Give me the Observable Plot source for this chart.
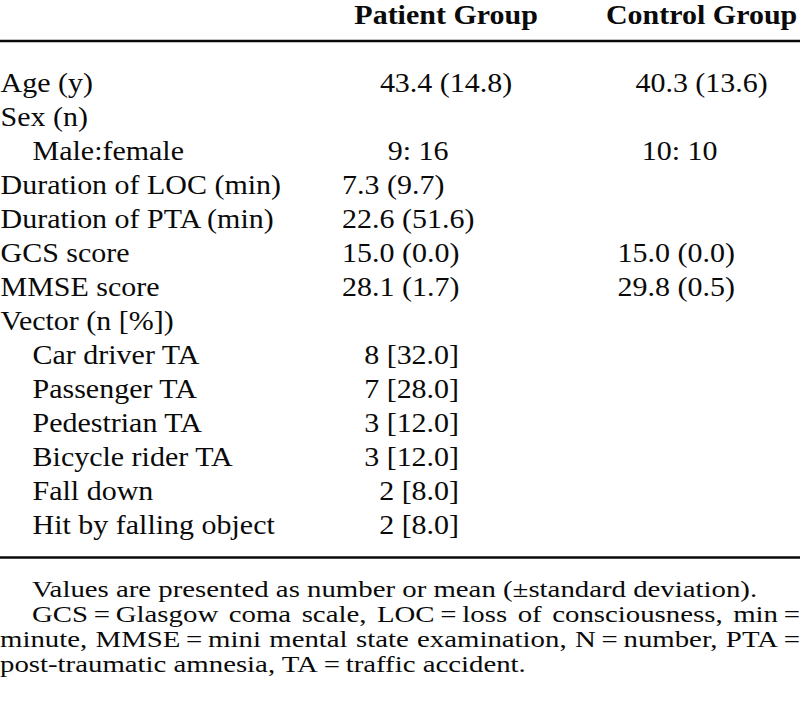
<!DOCTYPE html>
<html>
<head>
<meta charset="utf-8">
<script src="https://cdn.jsdelivr.net/npm/d3@7"></script>
<script src="https://cdn.jsdelivr.net/npm/@observablehq/plot@0.6"></script>
<style>
  html, body { margin: 0; padding: 0; background: #fff; }
  #chart svg { display: block; }
  #chart svg text { font-family: "Times New Roman", "Liberation Serif", Times, serif !important; }
  #notes { width: 800px; overflow: hidden; padding-top: 7px; }
  #notes .inner { transform-origin: 0 0; font-family: "Times New Roman", "Liberation Serif", Times, serif; color: #0a0a0a; }
  #notes .line { white-space: nowrap; }
  #notes .just { text-align: justify; text-align-last: justify; white-space: normal; }
</style>
</head>
<body>
<div id="chart"></div>
<div id="notes"></div>
<script>
// ---- data ----
const headers = ["Patient Group", "Control Group"];
const rowLabels = [
  "Age (y)", "Sex (n)", "Male:female", "Duration of LOC (min)", "Duration of PTA (min)",
  "GCS score", "MMSE score", "Vector (n [%])", "Car driver TA", "Passenger TA",
  "Pedestrian TA", "Bicycle rider TA", "Fall down", "Hit by falling object"
];
const rowLevel = [0, 0, 1, 0, 0, 0, 0, 0, 1, 1, 1, 1, 1, 1];
const patientValues = [
  "43.4 (14.8)", "", "9: 16", "7.3 (9.7)", "22.6 (51.6)", "15.0 (0.0)", "28.1 (1.7)",
  "", "8 [32.0]", "7 [28.0]", "3 [12.0]", "3 [12.0]", "2 [8.0]", "2 [8.0]"
];
const controlValues = [
  "40.3 (13.6)", "", "10: 10", "", "", "15.0 (0.0)", "29.8 (0.5)",
  "", "", "", "", "", "", ""
];
const noteParagraphs = [
  ["Values are presented as number or mean (\u00b1standard deviation)."],
  ["GCS\u2009=\u2009Glasgow coma scale, LOC\u2009=\u2009loss of consciousness, min\u2009=",
   "minute, MMSE\u2009=\u2009mini mental state examination, N\u2009=\u2009number, PTA\u2009=",
   "post-traumatic amnesia, TA\u2009=\u2009traffic accident."]
];

// ---- layout ----
const DISPLAY_W = 800;
const K = 1.111;                 // horizontal stretch of the typeset glyphs
const W = DISPLAY_W / K;
const H = 570;
const FONT = "Times New Roman";
const INK = "#0a0a0a";

// how each block of cells is set inside its column (layout, not data)
const cellLayout = [
  {rows: ["Age (y)"], anchor: "middle", dx: [0, 0]},
  {rows: ["Male:female"], anchor: "middle", dx: [-28, -22]},
  {rows: ["Duration of LOC (min)", "Duration of PTA (min)", "GCS score", "MMSE score"], anchor: "start", dx: [-104, -84]},
  {rows: ["Car driver TA", "Passenger TA", "Pedestrian TA", "Bicycle rider TA", "Fall down", "Hit by falling object"], anchor: "end", dx: [13, 13]}
];

const rows = rowLabels.map((label, i) => ({label, level: rowLevel[i]}));
const cells = [];
rowLabels.forEach((label, i) => {
  if (patientValues[i]) cells.push({row: label, column: headers[0], value: patientValues[i]});
  if (controlValues[i]) cells.push({row: label, column: headers[1], value: controlValues[i]});
});

const common = {fontFamily: FONT, fontSize: 27, fill: INK, lineAnchor: "bottom"};

const cellMarks = [];
for (const block of cellLayout) {
  headers.forEach((h, c) => {
    const data = cells.filter(d => d.column === h && block.rows.includes(d.row));
    if (data.length) {
      cellMarks.push(Plot.text(data, {...common, x: "column", y: "row", text: "value",
        textAnchor: block.anchor, dx: block.dx[c] / K}));
    }
  });
}

const plot = Plot.plot({
  width: W,
  height: H,
  margin: 0,
  style: {fontFamily: FONT, background: "#fff", color: INK},
  x: {type: "point", domain: headers, range: [445 / K, 701 / K], padding: 0, axis: null},
  y: {type: "point", domain: rowLabels, range: [86, 538], padding: 0, axis: null},
  marks: [
    // header titles
    Plot.text(headers, {...common, x: d => d, text: d => d, frameAnchor: "top", dy: 23, fontWeight: "bold"}),
    // rules
    Plot.ruleY([rowLabels[0]], {y: d => d, dy: -50.5, stroke: INK, strokeWidth: 2.5}),
    Plot.ruleY([rowLabels[rowLabels.length - 1]], {y: d => d, dy: 24, stroke: INK, strokeWidth: 2.5}),
    // row labels
    Plot.text(rows.filter(d => d.level === 0), {...common, y: "label", text: "label", frameAnchor: "left", textAnchor: "start"}),
    Plot.text(rows.filter(d => d.level === 1), {...common, y: "label", text: "label", frameAnchor: "left", textAnchor: "start", dx: 32 / K}),
    // values
    ...cellMarks
  ]
});

plot.setAttribute("preserveAspectRatio", "none");
plot.setAttribute("width", DISPLAY_W);
plot.setAttribute("height", H);
plot.style.width = DISPLAY_W + "px";
plot.style.height = H + "px";
plot.style.maxWidth = "none";
document.getElementById("chart").appendChild(plot);

// ---- footnote ----
const KN = 1.2;
const notes = document.getElementById("notes");
const inner = document.createElement("div");
inner.className = "inner";
inner.style.width = (DISPLAY_W / KN) + "px";
inner.style.transform = `scaleX(${KN})`;
inner.style.fontSize = "24px";
inner.style.lineHeight = "25px";
noteParagraphs.forEach(lines => {
  lines.forEach((line, j) => {
    const div = document.createElement("div");
    div.className = "line" + (j < lines.length - 1 ? " just" : "");
    if (j === 0) div.style.textIndent = (32 / KN) + "px";
    div.textContent = line;
    inner.appendChild(div);
  });
});
notes.appendChild(inner);
</script>
</body>
</html>
